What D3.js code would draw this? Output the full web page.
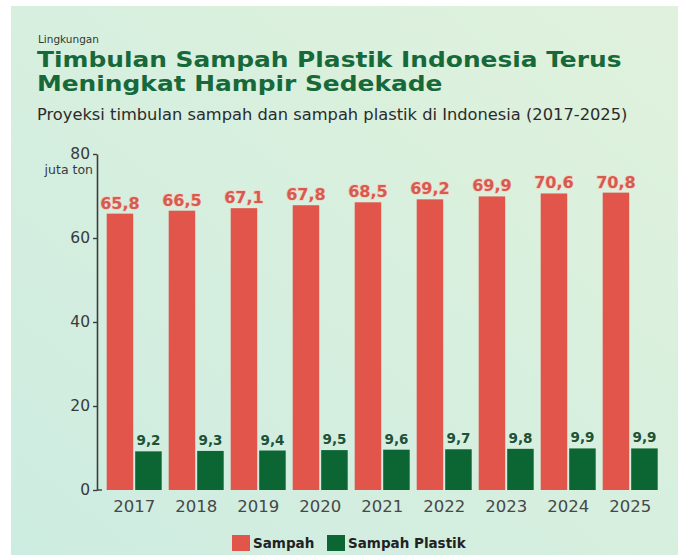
<!DOCTYPE html>
<html>
<head>
<meta charset="utf-8">
<script src="https://cdn.jsdelivr.net/npm/d3@7"></script>
<style>
  html, body { margin: 0; padding: 0; background: #ffffff; }
  svg { display: block; }
  text { font-family: "DejaVu Sans", sans-serif; }
</style>
</head>
<body>
<svg id="chart" width="678" height="555"></svg>
<script>
// ---- data ----
const years = ["2017", "2018", "2019", "2020", "2021", "2022", "2023", "2024", "2025"];
const sampah = [65.8, 66.5, 67.1, 67.8, 68.5, 69.2, 69.9, 70.6, 70.8];
const sampahPlastik = [9.2, 9.3, 9.4, 9.5, 9.6, 9.7, 9.8, 9.9, 9.9];
const seriesNames = ["Sampah", "Sampah Plastik"];
const yTicks = [0, 20, 40, 60, 80];
const kicker = "Lingkungan";
const titleLines = ["Timbulan Sampah Plastik Indonesia Terus", "Meningkat Hampir Sedekade"];
const subtitle = "Proyeksi timbulan sampah dan sampah plastik di Indonesia (2017-2025)";
const unitLabel = "juta ton";

const colors = { "Sampah": "#e1554a", "Sampah Plastik": "#0b6633" };
const fmt = v => d3.format(".1f")(v).replace(".", ",");

const svg = d3.select("#chart");

// background
const defs = svg.append("defs");
const grad = defs.append("linearGradient").attr("id", "bg")
  .attr("x1", "100%").attr("y1", "0%").attr("x2", "0%").attr("y2", "100%");
grad.append("stop").attr("offset", "0%").attr("stop-color", "#e0f2dc");
grad.append("stop").attr("offset", "100%").attr("stop-color", "#cdece1");
svg.append("rect").attr("x", 11).attr("y", 6).attr("width", 667).attr("height", 549).attr("fill", "url(#bg)");

// titles
svg.append("text").attr("x", 38).attr("y", 43).attr("font-size", 10.5).attr("fill", "#2f3a33").text(kicker);

function fitText(sel, targetWidth, x) {
  const w = sel.node().getComputedTextLength();
  const s = targetWidth / w;
  sel.attr("transform", `translate(${x},0) scale(${s},1)`).attr("x", 0);
  return s;
}
const t1 = svg.append("text").attr("y", 67).attr("font-size", 22).attr("font-weight", "bold")
  .attr("fill", "#17693a").text(titleLines[0]);
const s1 = fitText(t1, 585, 37);
svg.append("text").attr("y", 91).attr("font-size", 22).attr("font-weight", "bold")
  .attr("fill", "#17693a").attr("transform", `translate(37,0) scale(${s1},1)`).text(titleLines[1]);
const st = svg.append("text").attr("y", 120).attr("font-size", 15).attr("fill", "#2b2b2b").text(subtitle);
fitText(st, 591, 37);

// scales
const x0 = d3.scaleBand().domain(years).range([103.2, 661.2]).paddingInner(0.113).paddingOuter(0.0565);
const x1 = d3.scaleBand().domain(seriesNames).range([0, x0.bandwidth()]).paddingInner(0.07);
const y = d3.scaleLinear().domain([0, 80]).range([490, 154]);

// axis
const yAxis = svg.append("g").attr("transform", "translate(97,0)")
  .call(d3.axisLeft(y).tickValues(yTicks).tickSize(4).tickSizeOuter(0).tickPadding(3).tickFormat(d3.format("d")));
yAxis.select(".domain").attr("stroke", "#3d3d3d").attr("stroke-width", 1.6);
yAxis.selectAll(".tick line").attr("stroke", "#3d3d3d").attr("stroke-width", 1.4);
yAxis.selectAll(".tick text").attr("font-size", 15.5).attr("fill", "#3a3a3a")
  .attr("font-family", "DejaVu Sans, sans-serif");
svg.append("line").attr("x1", 97).attr("x2", 102).attr("y1", y(0)).attr("y2", y(0))
  .attr("stroke", "#3d3d3d").attr("stroke-width", 1.4);
svg.append("text").attr("x", 93).attr("y", 174).attr("text-anchor", "end")
  .attr("font-size", 12.5).attr("fill", "#3a3a3a").text(unitLabel);

// bars
const rows = years.map((yr, i) => ({ year: yr, vals: [
  { key: "Sampah", v: sampah[i] }, { key: "Sampah Plastik", v: sampahPlastik[i] }] }));

const groups = svg.append("g").selectAll("g").data(rows).join("g")
  .attr("transform", d => `translate(${x0(d.year)},0)`);

groups.selectAll("rect").data(d => d.vals).join("rect")
  .attr("x", d => x1(d.key)).attr("width", x1.bandwidth())
  .attr("y", d => y(d.v)).attr("height", d => y(0) - y(d.v))
  .attr("fill", d => colors[d.key]);

groups.selectAll("text.val").data(d => d.vals).join("text").attr("class", "val")
  .attr("x", d => x1(d.key) + x1.bandwidth() / 2)
  .attr("y", d => y(d.v) - (d.key === "Sampah" ? 5 : 6))
  .attr("text-anchor", "middle")
  .attr("font-weight", "bold")
  .attr("font-size", d => d.key === "Sampah" ? 16 : 13.5)
  .attr("fill", d => d.key === "Sampah" ? "#d65b4f" : "#1d5236")
  .attr("stroke", d => d.key === "Sampah" ? "#f6cfc2" : "none")
  .attr("stroke-width", 1.5)
  .attr("paint-order", "stroke")
  .text(d => fmt(d.v));

// year labels
svg.append("g").selectAll("text").data(years).join("text")
  .attr("x", d => x0(d) + x0.bandwidth() / 2)
  .attr("y", 512)
  .attr("text-anchor", "middle")
  .attr("font-size", 16.5)
  .attr("fill", "#474747")
  .text(d => d);

// legend
const legendX = [232, 327];
const lg = svg.append("g").selectAll("g").data(seriesNames).join("g")
  .attr("transform", (d, i) => `translate(${legendX[i]},535)`);
lg.append("rect").attr("width", 18).attr("height", 16).attr("fill", d => colors[d]);
lg.append("text").attr("x", 21).attr("y", 13).attr("font-size", 13.5).attr("font-weight", "600")
  .attr("fill", "#222").text(d => d);
</script>
</body>
</html>
